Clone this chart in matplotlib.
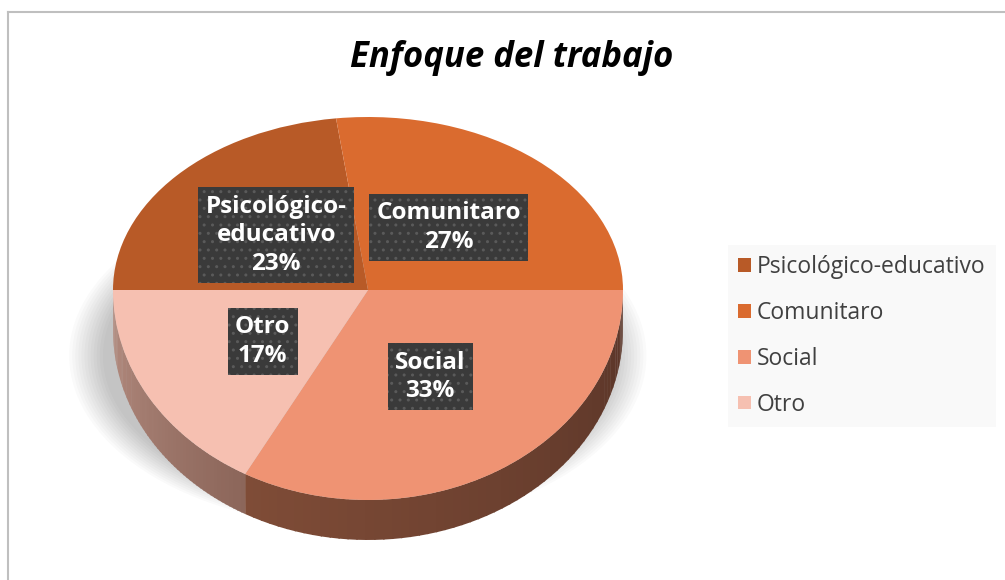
import numpy as np
import matplotlib
matplotlib.use("Agg")
import matplotlib.pyplot as plt
from matplotlib.lines import Line2D
from matplotlib.patches import Ellipse
from matplotlib.colors import to_rgb
from matplotlib.transforms import Transform

plt.rcParams['font.family'] = ['Open Sans', 'DejaVu Sans']

# data
categories = ['Psicológico-educativo', 'Comunitaro', 'Social', 'Otro']
box_labels = ['Psicológico-\neducativo', 'Comunitaro', 'Social', 'Otro']
values = [23, 27, 33, 17]
colors = ['#B85A27', '#DA6B2F', '#EF9373', '#F6C0B1']
# side (depth) colours per slice: (left end, right end)
side_colors = {'Social': ('#7f4c37', '#5a3528'), 'Otro': ('#b68e82', '#8c665a')}

W, H = 1005, 580
fig = plt.figure(figsize=(W / 100, H / 100), dpi=100)

# pie geometry in pixels: near half looks taller (perspective)
cx, cy, rx, ry_back, ry_front = 368, 290, 255, 173, 210
depth_px = 40
left, right, top, bottom = 60, 680, 85, 575
ax = fig.add_axes([left / W, 1 - bottom / H, (right - left) / W, (bottom - top) / H])


class Perspective(Transform):
    """stretch the front (y < 0) half of the pie"""
    input_dims = output_dims = 2

    def __init__(self, k):
        super().__init__()
        self.k = k

    def transform_non_affine(self, v):
        v = np.array(v, dtype=float)
        v[:, 1] = np.where(v[:, 1] < 0, v[:, 1] * self.k, v[:, 1])
        return v


persp = Perspective(ry_front / ry_back)
tr = persp + ax.transData
depth = depth_px / ry_back

# soft shadow
for k in range(12):
    s = 1 + k * 0.012
    ax.add_patch(Ellipse((-0.04, -0.38), 2.0 * s, 1.75 * s, fc='#000000',
                         alpha=0.02, ec='none', zorder=0, clip_on=False))

# side band for the front half
bounds = []
a = 180.0
for v in values:
    b = a - v / sum(values) * 360
    bounds.append((a, b))
    a = b

kf = ry_front / ry_back
for name, (a0, a1) in zip(categories, bounds):
    if name not in side_colors:
        continue
    lo, hi = max(min(a0, a1), -180), min(max(a0, a1), 0)
    if hi <= lo:
        continue
    c0, c1 = np.array(to_rgb(side_colors[name][0])), np.array(to_rgb(side_colors[name][1]))
    angs = np.linspace(lo, hi, 60)
    for i in range(len(angs) - 1):
        t = i / (len(angs) - 2)
        col = c0 + (c1 - c0) * t
        t1, t2 = np.radians(angs[i]), np.radians(min(angs[i + 1] + 0.3, hi))
        xs = [np.cos(t1), np.cos(t2), np.cos(t2), np.cos(t1)]
        ys = [np.sin(t1) * kf, np.sin(t2) * kf, np.sin(t2) * kf - depth, np.sin(t1) * kf - depth]
        ax.fill(xs, ys, color=col, lw=0, zorder=1)


def fmt(pct, labels=iter(box_labels)):
    return f"{next(labels)}\n{pct:.0f}%"


wedges, texts, autotexts = ax.pie(
    values, colors=colors, startangle=180, counterclock=False,
    autopct=fmt, pctdistance=0.48,
    wedgeprops=dict(linewidth=0, zorder=2),
    textprops=dict(color='white', fontsize=17.5, fontweight='bold', linespacing=1.25,
                   zorder=5))
for w in wedges:
    w.set_transform(tr)
for t in autotexts:
    t.set_transform(tr)
    t.set_bbox(dict(boxstyle='square,pad=0.3', fc='#3a3a3a', ec='#5a5a5a',
                    hatch='..', lw=0))

ax.set_aspect('auto')
ax.set_xlim((left - cx) / rx, (right - cx) / rx)
ax.set_ylim((cy - bottom) / ry_back, (cy - top) / ry_back)
ax.axis('off')

# title
fig.text(512 / W, 1 - 58 / H, 'Enfoque del trabajo', ha='center', va='center',
         fontsize=25, fontweight='bold', fontstyle='italic', color='black')

# legend
leg = fig.legend(wedges, categories, loc='upper left',
                 bbox_to_anchor=(728 / W, 1 - 245 / H), fontsize=16.5,
                 frameon=True, facecolor='#f8f8f8', edgecolor='none',
                 fancybox=False, handlelength=0.55, handleheight=0.55,
                 handletextpad=0.25, labelspacing=0.95, borderpad=0.45,
                 borderaxespad=0)
for t in leg.get_texts():
    t.set_color('#404040')

# frame (top and left edges)
fig.add_artist(Line2D([8 / W, 8 / W], [0, 1 - 12 / H], transform=fig.transFigure,
                      color='#bfbfbf', lw=1.5))
fig.add_artist(Line2D([8 / W, 1], [1 - 12 / H, 1 - 12 / H], transform=fig.transFigure,
                      color='#bfbfbf', lw=1.5))

fig.savefig('out.png', dpi=100)
